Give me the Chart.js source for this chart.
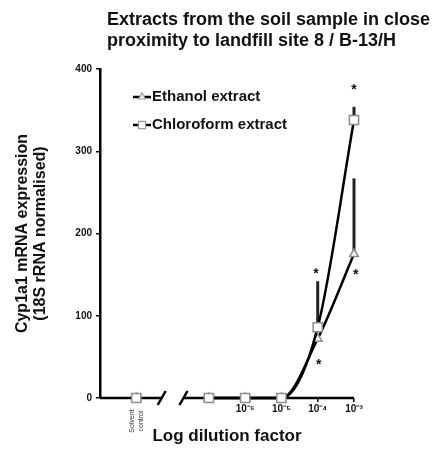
<!DOCTYPE html>
<html>
<head>
<meta charset="utf-8">
<script src="https://cdn.jsdelivr.net/npm/chart.js@4/dist/chart.umd.min.js"></script>
<style>
  body { margin: 0; background: #fff; }
  #wrap { width: 448px; height: 450px; }
</style>
</head>
<body>
<div id="wrap"><canvas id="cyp" width="448" height="450"></canvas></div>
<script>
// log10 dilution; -9 stands for the solvent control
const dilutions = [-9, -7, -6, -5, -4, -3];
const ethanol = [0, 0, 0, 0, 72, 175];
const ethanolErr = [0, 0, 0, 0, 0, 92];
const chloroform = [0, 0, 0, 0, 86, 338];
const chloroformErr = [0, 0, 0, 0, 56, 16];

const xTickValues = [-6, -5, -4, -3];
const xTickLabels = ["10\u207B\u2076", "10\u207B\u2075", "10\u207B\u2074", "10\u207B\u00B3"];
const yTickValues = [0, 100, 200, 300, 400];

// significance marks: [log dilution, expression]
const stars = [[-4.05, 154], [-3.97, 44], [-3.0, 378], [-2.95, 153]];
const axisBreak = [-8.3, -7.7];

const FONT = "'Liberation Sans', Arial, sans-serif";

const toPoints = (ys) => ys.map((y, i) => ({ x: dilutions[i], y }));

const extras = {
	id: "extras",
	beforeDatasetsDraw(chart) {
		const { ctx, chartArea, scales: { x, y } } = chart;
		ctx.save();
		ctx.strokeStyle = "#000";
		ctx.lineWidth = 2.5;
		// x axis with a break
		const b0 = x.getPixelForValue(axisBreak[0]);
		const b1 = x.getPixelForValue(axisBreak[1]);
		const yb = chartArea.bottom;
		ctx.beginPath();
		ctx.moveTo(chartArea.left, yb);
		ctx.lineTo(b0, yb);
		ctx.moveTo(b1, yb);
		ctx.lineTo(chartArea.right, yb);
		ctx.stroke();
		[b0, b1].forEach((bx) => {
			ctx.beginPath();
			ctx.moveTo(bx - 4, yb + 7);
			ctx.lineTo(bx + 4, yb - 7);
			ctx.stroke();
		});
		// upper error bars
		ctx.strokeStyle = "#222";
		ctx.lineWidth = 3;
		[[chloroform, chloroformErr], [ethanol, ethanolErr]].forEach(([vals, errs]) => {
			vals.forEach((v, i) => {
				if (!errs[i]) return;
				const px = x.getPixelForValue(dilutions[i]);
				ctx.beginPath();
				ctx.moveTo(px, y.getPixelForValue(v));
				ctx.lineTo(px, y.getPixelForValue(v + errs[i]));
				ctx.stroke();
			});
		});
		ctx.restore();
	},
	afterDraw(chart) {
		const { ctx, scales: { x, y } } = chart;
		ctx.save();
		ctx.fillStyle = "#111";

		// title
		ctx.font = "bold 18px " + FONT;
		ctx.textAlign = "left";
		ctx.textBaseline = "middle";
		ctx.fillText("Extracts from the soil sample in close", 107, 20);
		ctx.fillText("proximity to landfill site 8 / B-13/H", 107, 41);

		// stars
		ctx.font = "bold 14px " + FONT;
		ctx.textAlign = "center";
		stars.forEach(([sx, sy]) => {
			ctx.fillText("*", x.getPixelForValue(sx), y.getPixelForValue(sy) + 3);
		});

		// legend
		const items = [
			{ label: "Ethanol extract", style: "triangle", yy: 97 },
			{ label: "Chloroform extract", style: "rect", yy: 125 },
		];
		items.forEach((it) => {
			ctx.strokeStyle = "#000";
			ctx.lineWidth = 2.5;
			ctx.beginPath();
			ctx.moveTo(133, it.yy);
			ctx.lineTo(151, it.yy);
			ctx.stroke();
			ctx.fillStyle = "#fff";
			ctx.strokeStyle = "#999";
			ctx.lineWidth = 1.2;
			Chart.helpers.drawPoint(ctx, { pointStyle: it.style, radius: it.style === "rect" ? 5 : 4, borderWidth: 1.2, rotation: 0 }, 142, it.yy);
			ctx.fillStyle = "#111";
			ctx.font = "bold 15px " + FONT;
			ctx.textAlign = "left";
			ctx.fillText(it.label, 152, it.yy);
		});

		// solvent control label
		ctx.translate(x.getPixelForValue(dilutions[0]), 421);
		ctx.rotate(-Math.PI / 2);
		ctx.font = "7px " + FONT;
		ctx.textAlign = "center";
		ctx.fillStyle = "#333";
		ctx.fillText("Solvent", 0, -4);
		ctx.fillText("control", 0, 5);
		ctx.restore();
	},
};

const hideBreakSegment = (ctx) => (ctx.p0DataIndex === 0 ? "transparent" : "#000");

new Chart(document.getElementById("cyp"), {
	type: "line",
	data: {
		datasets: [
			{
				label: "Chloroform extract",
				data: toPoints(chloroform),
				borderColor: "#000",
				borderWidth: 2.5,
				pointStyle: "rect",
				pointRadius: 6.5,
				pointBackgroundColor: "#fff",
				pointBorderColor: "#8c8c8c",
				pointBorderWidth: 1.5,
				cubicInterpolationMode: "monotone",
				segment: { borderColor: hideBreakSegment },
				clip: false,
			},
			{
				label: "Ethanol extract",
				data: toPoints(ethanol),
				borderColor: "#000",
				borderWidth: 2.5,
				pointStyle: "triangle",
				pointRadius: 5,
				pointBackgroundColor: "#fff",
				pointBorderColor: "#8c8c8c",
				pointBorderWidth: 1.5,
				cubicInterpolationMode: "monotone",
				segment: { borderColor: hideBreakSegment },
				clip: false,
			},
		],
	},
	options: {
		responsive: false,
		animation: false,
		layout: { padding: { top: 69, right: 94, left: 0, bottom: 0 } },
		plugins: {
			legend: { display: false },
			tooltip: { enabled: false },
		},
		scales: {
			x: {
				type: "linear",
				min: -10,
				max: -3,
				afterFit: (s) => { s.height = 52; },
				afterBuildTicks: (s) => { s.ticks = xTickValues.map((v) => ({ value: v })); },
				border: { display: false },
				grid: { drawOnChartArea: false, drawTicks: true, tickLength: 4, color: "#000", lineWidth: 1.5 },
				ticks: {
					padding: 1,
					maxRotation: 0,
					color: "#111",
					font: { family: FONT, size: 10, weight: "bold" },
					callback: (v) => xTickLabels[xTickValues.indexOf(v)],
				},
				title: {
					display: true,
					text: "Log dilution factor",
					color: "#111",
					font: { family: FONT, size: 17, weight: "bold" },
					padding: { top: 0, bottom: 3 },
				},
			},
			y: {
				min: 0,
				max: 400,
				afterFit: (s) => { s.width = 100; },
				afterBuildTicks: (s) => { s.ticks = yTickValues.map((v) => ({ value: v })); },
				border: { display: true, color: "#000", width: 2.5 },
				grid: { drawOnChartArea: false, drawTicks: true, tickLength: 4, color: "#000", lineWidth: 1.5 },
				ticks: {
					padding: 4,
					color: "#111",
					font: { family: FONT, size: 10, weight: "bold" },
				},
				title: {
					display: true,
					text: ["Cyp1a1 mRNA expression", "(18S rRNA normalised)"],
					color: "#111",
					font: { family: FONT, size: 16, weight: "bold", lineHeight: 1.1 },
					padding: { top: 14, bottom: 0 },
				},
			},
		},
	},
	plugins: [extras],
});
</script>
</body>
</html>
